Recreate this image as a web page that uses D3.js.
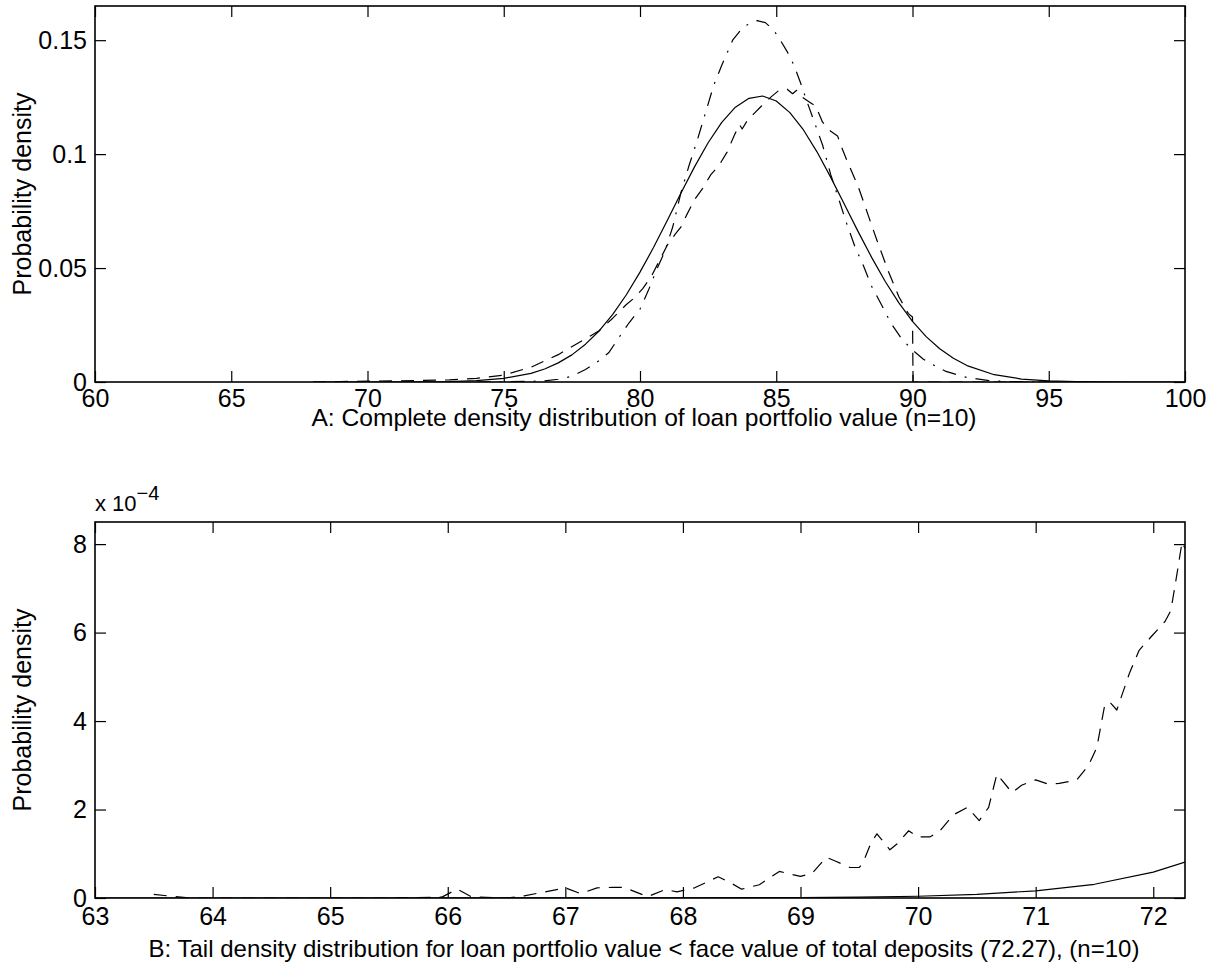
<!DOCTYPE html>
<html><head><meta charset="utf-8">
<script src="https://cdn.jsdelivr.net/npm/d3@7"></script>
<style>
body{margin:0;background:#fff}
svg{display:block}
text{font-family:"Liberation Sans",Arial,Helvetica,sans-serif;fill:#000}
</style>
</head><body>
<svg id="chart" width="1218" height="968"></svg>
<script>
// ---------- Panel A data ----------
const aTicksX = [60, 65, 70, 75, 80, 85, 90, 95, 100];
const aTicksY = [0, 0.05, 0.1, 0.15];
const aTickLabelsY = ["0", "0.05", "0.1", "0.15"];

const aSolidX = [68,70,72,73,74,75,76,76.5,77,77.5,78,78.5,79,79.5,80,80.5,81,81.5,82,82.5,83,83.5,84,84.5,85,85.5,86,86.5,87,87.5,88,88.5,89,89.5,90,90.5,91,91.5,92,93,94,95,96,97,98,100];
const aSolidY = [0,0,0.0001,0.0002,0.0006,0.0016,0.0038,0.0057,0.0084,0.0119,0.0166,0.0224,0.0297,0.0383,0.0482,0.0591,0.0709,0.0828,0.0944,0.1050,0.1139,0.1206,0.1245,0.1255,0.1233,0.1182,0.1106,0.1009,0.0898,0.0780,0.0661,0.0547,0.0441,0.0347,0.0266,0.0199,0.0146,0.0104,0.0072,0.0032,0.0013,0.0005,0.0002,0.0001,0,0];

const aDashX = [68,69,70,71,72,73,74,75,76,77,78,78.5,79,79.5,79.8,80.1,80.4,80.7,81.0,81.3,81.5,81.7,82.0,82.3,82.6,82.9,83.2,83.45,83.65,83.75,83.95,84.2,84.45,84.8,85.1,85.4,85.6,85.75,85.95,86.2,86.45,86.7,87.0,87.25,87.4,87.6,88.0,88.35,88.7,89.1,89.5,89.85,90.0,90.02,92,95];
const aDashY = [0,0.0002,0.0004,0.0005,0.0007,0.0009,0.0016,0.003,0.0065,0.012,0.019,0.0225,0.028,0.034,0.037,0.041,0.046,0.053,0.060,0.065,0.068,0.073,0.080,0.085,0.091,0.095,0.101,0.108,0.113,0.111,0.115,0.118,0.121,0.125,0.128,0.1285,0.1265,0.128,0.125,0.123,0.121,0.114,0.110,0.108,0.103,0.097,0.086,0.074,0.062,0.049,0.0374,0.030,0.0285,0,0,0];

const aDashDotX = [74,75,76,76.5,77,77.5,78,78.4,78.85,79.2,79.6,80.0,80.3,80.6,80.9,81.2,81.5,81.8,82.1,82.4,82.7,83.0,83.4,83.8,84.3,84.6,84.9,85.15,85.4,85.65,85.9,86.1,86.4,86.7,87.0,87.3,87.6,87.9,88.2,88.5,88.9,89.2,89.6,90.0,90.4,90.8,91.2,91.6,92.0,92.8,93.5,94.5,96];
const aDashDotY = [0,0.0001,0.0003,0.0005,0.0012,0.0025,0.0055,0.0085,0.0128,0.019,0.026,0.032,0.040,0.049,0.057,0.068,0.083,0.095,0.106,0.118,0.130,0.139,0.150,0.156,0.1586,0.1577,0.1545,0.150,0.145,0.139,0.131,0.124,0.114,0.104,0.091,0.080,0.069,0.059,0.051,0.042,0.033,0.026,0.019,0.014,0.010,0.0073,0.0048,0.0033,0.002,0.0006,0.0002,0,0];

// ---------- Panel B data (values in units of 1e-4) ----------
const bTicksX = [63, 64, 65, 66, 67, 68, 69, 70, 71, 72];
const bTicksY = [0, 2, 4, 6, 8];

const bDashX = [63.5,63.8,64.5,65.5,65.95,66.08,66.2,66.5,66.65,66.85,67.0,67.13,67.27,67.4,67.5,67.7,67.85,67.95,68.1,68.3,68.4,68.5,68.65,68.82,68.9,69.0,69.1,69.22,69.3,69.42,69.5,69.53,69.6,69.65,69.76,69.82,69.92,70.0,70.1,70.18,70.3,70.42,70.52,70.6,70.67,70.8,70.88,71.0,71.1,71.2,71.35,71.45,71.52,71.59,71.64,71.69,71.8,71.88,71.98,72.1,72.15,72.2,72.245,72.27];
const bDashY = [0.08,0,0,0,0.02,0.2,0.03,0,0.05,0.15,0.23,0.1,0.23,0.24,0.24,0.03,0.19,0.14,0.23,0.48,0.35,0.2,0.3,0.6,0.55,0.49,0.56,0.92,0.83,0.69,0.69,0.79,1.25,1.45,1.09,1.22,1.52,1.38,1.38,1.5,1.88,2.05,1.75,2.05,2.8,2.38,2.55,2.67,2.58,2.59,2.67,3.0,3.4,4.4,4.4,4.25,5.1,5.6,5.9,6.25,6.5,7.3,8.05,7.9];

const bSolidX = [63,68,69,69.5,70,70.5,71,71.5,72,72.27];
const bSolidY = [0,0.002,0.01,0.02,0.04,0.083,0.162,0.31,0.585,0.81];

// ---------- drawing ----------
const svg = d3.select("#chart");
const L = 95, R = 1185;
const FS = 25;

function zipXY(xs, ys){ return xs.map((x,i)=>({x:x, y:ys[i]})); }

function panel(cfg){
  const g = svg.append("g");
  const x = d3.scaleLinear().domain(cfg.xDomain).range([L, R]);
  const y = d3.scaleLinear().domain(cfg.yDomain).range([cfg.bottom, cfg.top]);
  const clipId = "clip" + cfg.id;
  svg.append("clipPath").attr("id", clipId).append("rect")
    .attr("x", L).attr("y", cfg.top).attr("width", R - L).attr("height", cfg.bottom - cfg.top);

  const line = d3.line().x(d=>x(d.x)).y(d=>y(d.y));
  const lines = g.append("g").attr("clip-path", `url(#${clipId})`);
  cfg.series.forEach(s => {
    lines.append("path").datum(zipXY(s.xs, s.ys))
      .attr("d", line).attr("fill", "none").attr("stroke", "#000")
      .attr("stroke-width", 1.2).attr("stroke-dasharray", s.dash || null)
      .attr("stroke-linejoin", "round");
  });

  const bx = g.append("g").attr("transform", `translate(0,${cfg.bottom})`)
    .call(d3.axisBottom(x).tickValues(cfg.xTicks).tickSizeInner(-11).tickSizeOuter(0).tickPadding(cfg.xPad).tickFormat(d3.format("d")));
  const tx = g.append("g").attr("transform", `translate(0,${cfg.top})`)
    .call(d3.axisTop(x).tickValues(cfg.xTicks).tickSizeInner(-11).tickSizeOuter(0).tickFormat(""));
  const ly = g.append("g").attr("transform", `translate(${L},0)`)
    .call(d3.axisLeft(y).tickValues(cfg.yTicks).tickSizeInner(-11).tickSizeOuter(0).tickPadding(8)
      .tickFormat((d,i)=>cfg.yLabels[i]));
  const ry = g.append("g").attr("transform", `translate(${R},0)`)
    .call(d3.axisRight(y).tickValues(cfg.yTicks).tickSizeInner(-11).tickSizeOuter(0).tickFormat(""));
  [bx, tx, ly, ry].forEach(a => {
    a.selectAll(".domain").remove();
    a.selectAll(".tick line").attr("stroke", "#000").attr("stroke-width", 1.2);
    a.selectAll("text").attr("font-size", FS).attr("font-family", null).style("fill", "#000");
  });
  g.append("rect").attr("x", L).attr("y", cfg.top).attr("width", R - L).attr("height", cfg.bottom - cfg.top)
    .attr("fill", "none").attr("stroke", "#000").attr("stroke-width", 1.6);

  g.append("text").attr("x", (L + R) / 2 + 4).attr("y", cfg.titleY).attr("text-anchor", "middle")
    .attr("font-size", cfg.titleFS).text(cfg.title);
  g.append("text").attr("transform", `translate(31,${(cfg.top + cfg.bottom) / 2}) rotate(-90)`)
    .attr("text-anchor", "middle").attr("font-size", FS).text("Probability density");
  return {g, x, y};
}

panel({
  id: "A", xDomain: [60, 100], yDomain: [0, 0.165], top: 6, bottom: 382,
  xTicks: aTicksX, yTicks: aTicksY, yLabels: aTickLabelsY, xPad: 7,
  title: "A: Complete density distribution of loan portfolio value (n=10)", titleY: 426, titleFS: 24.6,
  series: [
    {xs: aSolidX, ys: aSolidY},
    {xs: aDashX, ys: aDashY, dash: "13,9"},
    {xs: aDashDotX, ys: aDashDotY, dash: "14,9,2,9"}
  ]
});

panel({
  id: "B", xDomain: [63, 72.27], yDomain: [0, 8.5], top: 522, bottom: 898,
  xTicks: bTicksX, yTicks: bTicksY, yLabels: bTicksY.map(String), xPad: 9,
  title: "B: Tail density distribution for loan portfolio value < face value of total deposits (72.27), (n=10)", titleY: 957, titleFS: 24,
  series: [
    {xs: bSolidX, ys: bSolidY},
    {xs: bDashX, ys: bDashY, dash: "13,9"}
  ]
});

// exponent label
const ex = svg.append("text").attr("x", L).attr("y", 511).attr("font-size", 22);
ex.append("tspan").text("x 10");
ex.append("tspan").attr("dy", -11).attr("font-size", 20).text("\u22124");
</script>
</body></html>
